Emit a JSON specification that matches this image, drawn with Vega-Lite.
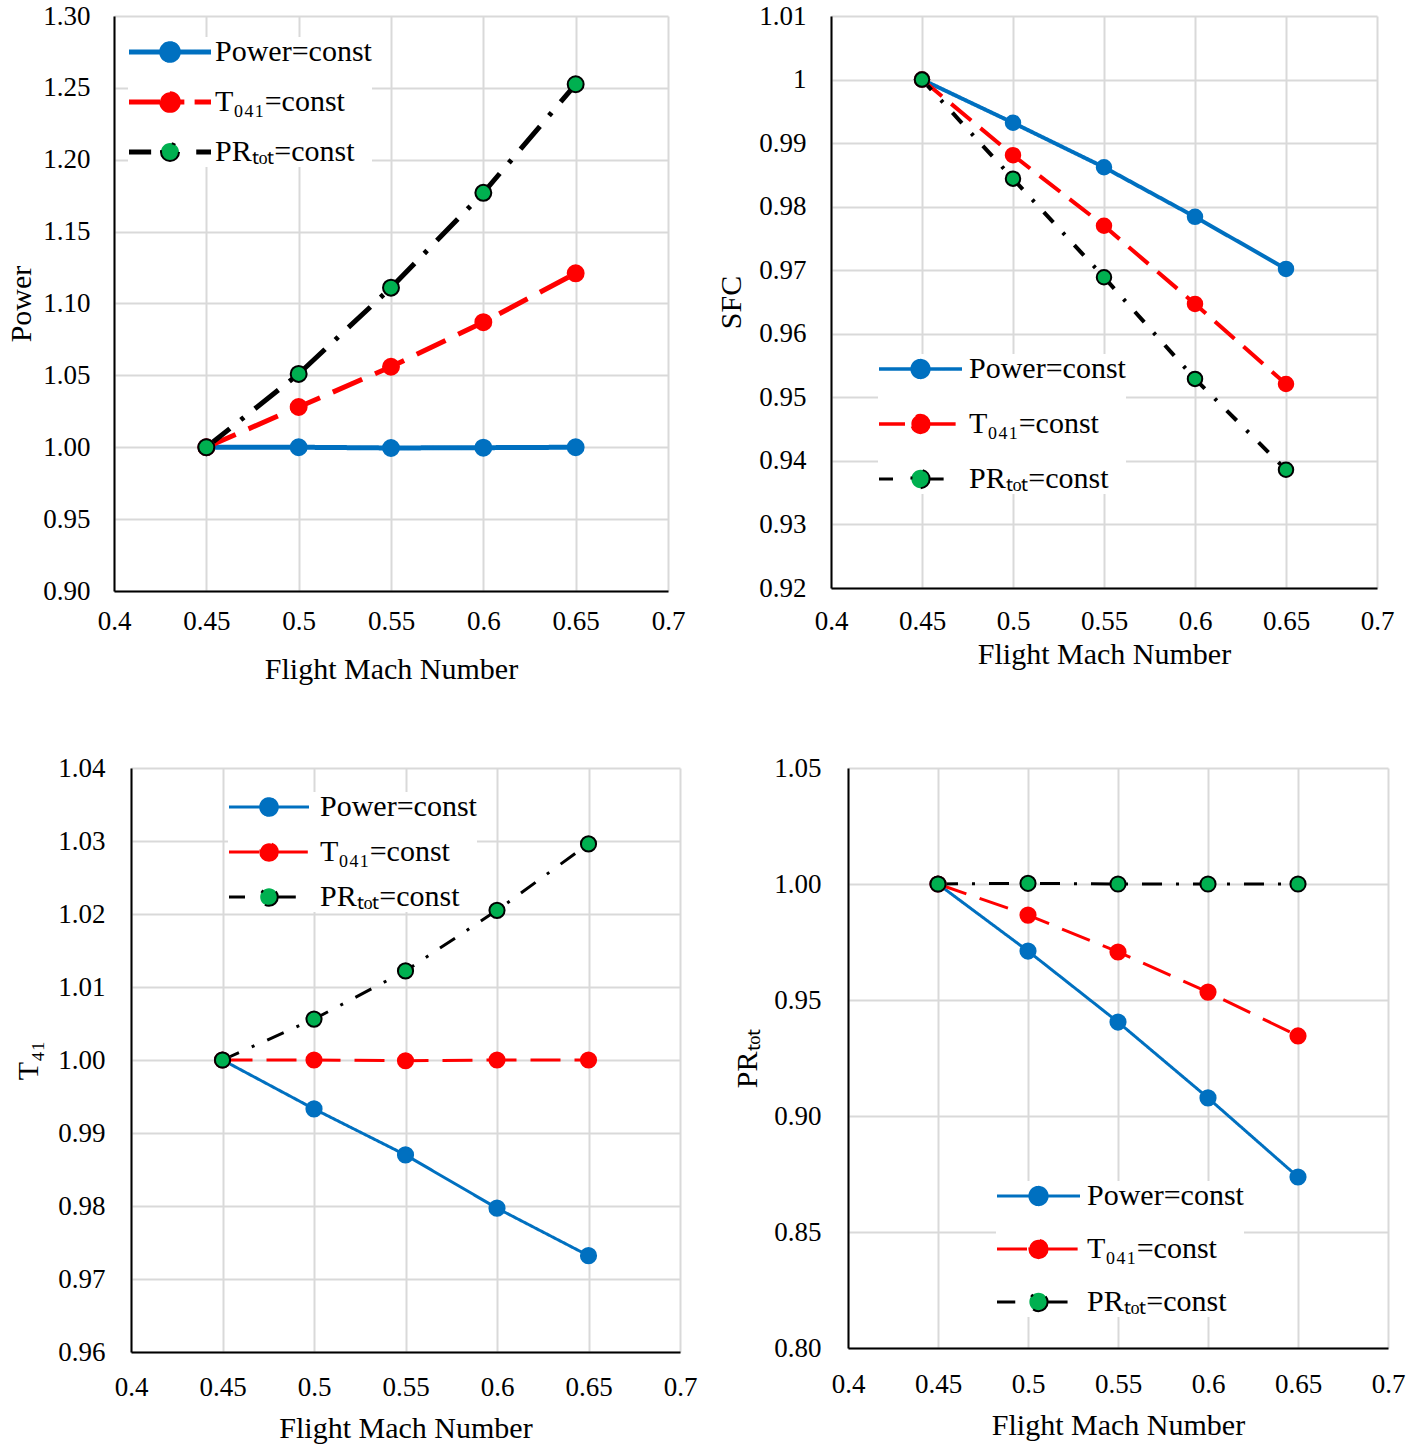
{
  "$schema": "https://vega.github.io/schema/vega-lite/v6.json",
  "padding": {"left": 6, "top": 2, "right": 5, "bottom": 5},
  "background": "white",
  "config": {
    "font": "Liberation Serif",
    "view": {"stroke": null},
    "style": {"guide-label": {"font": "Liberation Serif"}, "guide-title": {"font": "Liberation Serif"}},
    "axis": {
      "labelFont": "Liberation Serif", "labelFontSize": 27, "labelColor": "#000000",
      "titleFont": "Liberation Serif", "titleFontSize": 30, "titleFontWeight": "normal", "titleColor": "#000000",
      "gridColor": "#d9d9d9", "gridWidth": 2, "domainColor": "#000000", "domainWidth": 2,
      "ticks": false, "labelFlush": false, "labelOverlap": false
    },
    "legend": {"labelFont": "Liberation Serif", "labelColor": "#000000"}
  },
  "resolve": {"scale": {"color": "independent", "strokeDash": "independent", "fill": "independent", "stroke": "independent"}, "legend": {"color": "independent"}},
  "data": {"values": [
    {"panel": "Power", "series": "Power=const", "mach": 0.45, "value": 1.000},
    {"panel": "Power", "series": "Power=const", "mach": 0.5, "value": 1.000},
    {"panel": "Power", "series": "Power=const", "mach": 0.55, "value": 0.9995},
    {"panel": "Power", "series": "Power=const", "mach": 0.6, "value": 0.9997},
    {"panel": "Power", "series": "Power=const", "mach": 0.65, "value": 1.000},
    {"panel": "Power", "series": "T₀₄₁=const", "mach": 0.45, "value": 1.000},
    {"panel": "Power", "series": "T₀₄₁=const", "mach": 0.5, "value": 1.028},
    {"panel": "Power", "series": "T₀₄₁=const", "mach": 0.55, "value": 1.056},
    {"panel": "Power", "series": "T₀₄₁=const", "mach": 0.6, "value": 1.087},
    {"panel": "Power", "series": "T₀₄₁=const", "mach": 0.65, "value": 1.121},
    {"panel": "Power", "series": "PRₜₒₜ=const", "mach": 0.45, "value": 1.000},
    {"panel": "Power", "series": "PRₜₒₜ=const", "mach": 0.5, "value": 1.051},
    {"panel": "Power", "series": "PRₜₒₜ=const", "mach": 0.55, "value": 1.111},
    {"panel": "Power", "series": "PRₜₒₜ=const", "mach": 0.6, "value": 1.177},
    {"panel": "Power", "series": "PRₜₒₜ=const", "mach": 0.65, "value": 1.2525},

    {"panel": "SFC", "series": "Power=const", "mach": 0.45, "value": 1.000},
    {"panel": "SFC", "series": "Power=const", "mach": 0.5, "value": 0.9932},
    {"panel": "SFC", "series": "Power=const", "mach": 0.55, "value": 0.9862},
    {"panel": "SFC", "series": "Power=const", "mach": 0.6, "value": 0.9784},
    {"panel": "SFC", "series": "Power=const", "mach": 0.65, "value": 0.9702},
    {"panel": "SFC", "series": "T₀₄₁=const", "mach": 0.45, "value": 1.000},
    {"panel": "SFC", "series": "T₀₄₁=const", "mach": 0.5, "value": 0.9881},
    {"panel": "SFC", "series": "T₀₄₁=const", "mach": 0.55, "value": 0.9770},
    {"panel": "SFC", "series": "T₀₄₁=const", "mach": 0.6, "value": 0.9647},
    {"panel": "SFC", "series": "T₀₄₁=const", "mach": 0.65, "value": 0.9521},
    {"panel": "SFC", "series": "PRₜₒₜ=const", "mach": 0.45, "value": 1.000},
    {"panel": "SFC", "series": "PRₜₒₜ=const", "mach": 0.5, "value": 0.9844},
    {"panel": "SFC", "series": "PRₜₒₜ=const", "mach": 0.55, "value": 0.9689},
    {"panel": "SFC", "series": "PRₜₒₜ=const", "mach": 0.6, "value": 0.9529},
    {"panel": "SFC", "series": "PRₜₒₜ=const", "mach": 0.65, "value": 0.9386},

    {"panel": "T41", "series": "Power=const", "mach": 0.45, "value": 1.000},
    {"panel": "T41", "series": "Power=const", "mach": 0.5, "value": 0.9933},
    {"panel": "T41", "series": "Power=const", "mach": 0.55, "value": 0.9870},
    {"panel": "T41", "series": "Power=const", "mach": 0.6, "value": 0.9797},
    {"panel": "T41", "series": "Power=const", "mach": 0.65, "value": 0.9732},
    {"panel": "T41", "series": "T₀₄₁=const", "mach": 0.45, "value": 1.000},
    {"panel": "T41", "series": "T₀₄₁=const", "mach": 0.5, "value": 1.000},
    {"panel": "T41", "series": "T₀₄₁=const", "mach": 0.55, "value": 0.9999},
    {"panel": "T41", "series": "T₀₄₁=const", "mach": 0.6, "value": 1.000},
    {"panel": "T41", "series": "T₀₄₁=const", "mach": 0.65, "value": 1.000},
    {"panel": "T41", "series": "PRₜₒₜ=const", "mach": 0.45, "value": 1.000},
    {"panel": "T41", "series": "PRₜₒₜ=const", "mach": 0.5, "value": 1.0056},
    {"panel": "T41", "series": "PRₜₒₜ=const", "mach": 0.55, "value": 1.0122},
    {"panel": "T41", "series": "PRₜₒₜ=const", "mach": 0.6, "value": 1.0205},
    {"panel": "T41", "series": "PRₜₒₜ=const", "mach": 0.65, "value": 1.0296},

    {"panel": "PR", "series": "Power=const", "mach": 0.45, "value": 1.000},
    {"panel": "PR", "series": "Power=const", "mach": 0.5, "value": 0.9711},
    {"panel": "PR", "series": "Power=const", "mach": 0.55, "value": 0.9405},
    {"panel": "PR", "series": "Power=const", "mach": 0.6, "value": 0.9078},
    {"panel": "PR", "series": "Power=const", "mach": 0.65, "value": 0.8737},
    {"panel": "PR", "series": "T₀₄₁=const", "mach": 0.45, "value": 1.000},
    {"panel": "PR", "series": "T₀₄₁=const", "mach": 0.5, "value": 0.9866},
    {"panel": "PR", "series": "T₀₄₁=const", "mach": 0.55, "value": 0.9707},
    {"panel": "PR", "series": "T₀₄₁=const", "mach": 0.6, "value": 0.9534},
    {"panel": "PR", "series": "T₀₄₁=const", "mach": 0.65, "value": 0.9345},
    {"panel": "PR", "series": "PRₜₒₜ=const", "mach": 0.45, "value": 1.000},
    {"panel": "PR", "series": "PRₜₒₜ=const", "mach": 0.5, "value": 1.0003},
    {"panel": "PR", "series": "PRₜₒₜ=const", "mach": 0.55, "value": 1.000},
    {"panel": "PR", "series": "PRₜₒₜ=const", "mach": 0.6, "value": 1.000},
    {"panel": "PR", "series": "PRₜₒₜ=const", "mach": 0.65, "value": 1.000}
  ]},
  "columns": 1,
  "align": "none",
  "spacing": 70,
  "concat": [
    {
      "spacing": 31,
      "resolve": {"scale": {"color": "independent", "strokeDash": "independent", "fill": "independent", "stroke": "independent"}, "legend": {"color": "independent"}},
      "hconcat": [
        {
          "width": 554, "height": 575,
          "transform": [{"filter": "datum.panel == 'Power'"}],
          "layer": [
            {
              "mark": {"type": "line", "strokeWidth": 5},
              "encoding": {
                "x": {"field": "mach", "type": "quantitative", "scale": {"domain": [0.4, 0.7], "nice": false, "zero": false},
                      "axis": {"values": [0.4, 0.45, 0.5, 0.55, 0.6, 0.65, 0.7], "format": "~g", "title": "Flight Mach Number", "labelPadding": 17, "titlePadding": 20}},
                "y": {"field": "value", "type": "quantitative", "scale": {"domain": [0.9, 1.3], "nice": false, "zero": false},
                      "axis": {"values": [0.9, 0.95, 1.0, 1.05, 1.1, 1.15, 1.2, 1.25, 1.3], "format": ".2f", "title": "Power", "labelPadding": 24, "titlePadding": 6}},
                "color": {"field": "series", "type": "nominal",
                          "scale": {"domain": ["Power=const", "T₀₄₁=const", "PRₜₒₜ=const"], "range": ["#0070C0", "#FF0000", "#000000"]},
                          "legend": {"title": null, "orient": "none", "legendX": 14, "legendY": 21, "symbolType": "circle", "symbolSize": 6724, "symbolStrokeWidth": 2, "clipHeight": 30, "rowPadding": 20, "labelFontSize": 30, "labelOffset": 3, "fillColor": "white", "padding": 0,
                                     "encode": {"symbols": {"update": {
                                       "shape": {"signal": "indexof(datum.value, 'PR') == 0 ? 'M-1,-0.035L-0.46,-0.035M-1,0L-0.46,0M-1,0.035L-0.46,0.035M0.64,-0.035L1,-0.035M0.64,0L1,0M0.64,0.035L1,0.035M0.22,0C0.22,0.1215,0.1215,0.22,0,0.22C-0.1215,0.22,-0.22,0.1215,-0.22,0C-0.22,-0.1215,-0.1215,-0.22,0,-0.22C0.1215,-0.22,0.22,-0.1215,0.22,0Z' : (indexof(datum.value, 'Power') == 0 ? 'M-1,-0.035L-0.24,-0.035M-1,0L-0.24,0M-1,0.035L-0.24,0.035M0.24,-0.035L1,-0.035M0.24,0L1,0M0.24,0.035L1,0.035M0.24,0C0.24,0.1326,0.1326,0.24,0,0.24C-0.1326,0.24,-0.24,0.1326,-0.24,0C-0.24,-0.1326,-0.1326,-0.24,0,-0.24C0.1326,-0.24,0.24,-0.1326,0.24,0Z' : 'M-1,-0.035L-0.24,-0.035M-1,0L-0.24,0M-1,0.035L-0.24,0.035M0.24,-0.035L0.35,-0.035M0.24,0L0.35,0M0.24,0.035L0.35,0.035M0.6,-0.035L1,-0.035M0.6,0L1,0M0.6,0.035L1,0.035M0.24,0C0.24,0.1326,0.1326,0.24,0,0.24C-0.1326,0.24,-0.24,0.1326,-0.24,0C-0.24,-0.1326,-0.1326,-0.24,0,-0.24C0.1326,-0.24,0.24,-0.1326,0.24,0Z')"},
                                       "fill": {"signal": "indexof(datum.value, 'PR') == 0 ? '#00B050' : (indexof(datum.value, 'Power') == 0 ? '#0070C0' : '#FF0000')"},
                                       "fillOpacity": {"value": 1}}}}}},
                "strokeDash": {"field": "series", "type": "nominal",
                               "scale": {"domain": ["Power=const", "T₀₄₁=const", "PRₜₒₜ=const"], "range": [[1, 0], [32, 14], [30, 14, 4, 14]]},
                               "legend": null}
              }
            },
            {
              "mark": {"type": "point", "filled": true, "size": 254, "strokeWidth": 2, "opacity": 1},
              "encoding": {
                "x": {"field": "mach", "type": "quantitative"},
                "y": {"field": "value", "type": "quantitative"},
                "fill": {"field": "series", "type": "nominal", "scale": {"domain": ["Power=const", "T₀₄₁=const", "PRₜₒₜ=const"], "range": ["#0070C0", "#FF0000", "#00B050"]}, "legend": null},
                "stroke": {"field": "series", "type": "nominal", "scale": {"domain": ["Power=const", "T₀₄₁=const", "PRₜₒₜ=const"], "range": ["#0070C0", "#FF0000", "#000000"]}, "legend": null}
              }
            }
          ]
        },
        {
          "width": 546, "height": 572,
          "transform": [{"filter": "datum.panel == 'SFC'"}],
          "layer": [
            {
              "mark": {"type": "line", "strokeWidth": 4},
              "encoding": {
                "x": {"field": "mach", "type": "quantitative", "scale": {"domain": [0.4, 0.7], "nice": false, "zero": false},
                      "axis": {"values": [0.4, 0.45, 0.5, 0.55, 0.6, 0.65, 0.7], "format": "~g", "title": "Flight Mach Number", "labelPadding": 20, "titlePadding": 5}},
                "y": {"field": "value", "type": "quantitative", "scale": {"domain": [0.92, 1.01], "nice": false, "zero": false},
                      "axis": {"values": [0.92, 0.93, 0.94, 0.95, 0.96, 0.97, 0.98, 0.99, 1, 1.01], "format": "~g", "title": "SFC", "labelPadding": 25, "titlePadding": 12}},
                "color": {"field": "series", "type": "nominal",
                          "scale": {"domain": ["Power=const", "T₀₄₁=const", "PRₜₒₜ=const"], "range": ["#0070C0", "#FF0000", "#000000"]},
                          "legend": {"title": null, "orient": "none", "legendX": 47, "legendY": 338, "symbolType": "circle", "symbolSize": 6889, "symbolStrokeWidth": 2, "clipHeight": 30, "rowPadding": 25, "labelFontSize": 30, "labelOffset": 6, "fillColor": "white", "padding": 0,
                                     "encode": {"symbols": {"update": {
                                       "shape": {"signal": "indexof(datum.value, 'PR') == 0 ? 'M-1,-0.012L-0.6,-0.012M-1,0.012L-0.6,0.012M0.22,-0.012L0.7,-0.012M0.22,0.012L0.7,0.012M0.22,0C0.22,0.1215,0.1215,0.22,0,0.22C-0.1215,0.22,-0.22,0.1215,-0.22,0C-0.22,-0.1215,-0.1215,-0.22,0,-0.22C0.1215,-0.22,0.22,-0.1215,0.22,0Z' : 'M-1,-0.018L-0.22,-0.018M-1,0.018L-0.22,0.018M0.22,-0.018L1,-0.018M0.22,0.018L1,0.018M0.22,0C0.22,0.1215,0.1215,0.22,0,0.22C-0.1215,0.22,-0.22,0.1215,-0.22,0C-0.22,-0.1215,-0.1215,-0.22,0,-0.22C0.1215,-0.22,0.22,-0.1215,0.22,0Z'"},
                                       "fill": {"signal": "indexof(datum.value, 'PR') == 0 ? '#00B050' : (indexof(datum.value, 'Power') == 0 ? '#0070C0' : '#FF0000')"},
                                       "fillOpacity": {"value": 1}}}}}},
                "strokeDash": {"field": "series", "type": "nominal",
                               "scale": {"domain": ["Power=const", "T₀₄₁=const", "PRₜₒₜ=const"], "range": [[1, 0], [26, 12], [14, 14, 3, 14]]},
                               "legend": null}
              }
            },
            {
              "mark": {"type": "point", "filled": true, "size": 210, "strokeWidth": 2, "opacity": 1},
              "encoding": {
                "x": {"field": "mach", "type": "quantitative"},
                "y": {"field": "value", "type": "quantitative"},
                "fill": {"field": "series", "type": "nominal", "scale": {"domain": ["Power=const", "T₀₄₁=const", "PRₜₒₜ=const"], "range": ["#0070C0", "#FF0000", "#00B050"]}, "legend": null},
                "stroke": {"field": "series", "type": "nominal", "scale": {"domain": ["Power=const", "T₀₄₁=const", "PRₜₒₜ=const"], "range": ["#0070C0", "#FF0000", "#000000"]}, "legend": null}
              }
            }
          ]
        }
      ]
    },
    {
      "spacing": 35,
      "resolve": {"scale": {"color": "independent", "strokeDash": "independent", "fill": "independent", "stroke": "independent"}, "legend": {"color": "independent"}},
      "hconcat": [
        {
          "width": 566, "height": 584,
          "transform": [{"filter": "datum.panel == 'T41'"}],
          "layer": [
            {
              "mark": {"type": "line", "strokeWidth": 3},
              "encoding": {
                "x": {"field": "mach", "type": "quantitative", "scale": {"domain": [0.4, 0.7], "range": [17, 566], "nice": false, "zero": false},
                      "axis": {"values": [0.4, 0.45, 0.5, 0.55, 0.6, 0.65, 0.7], "format": "~g", "title": "Flight Mach Number", "labelPadding": 22, "titlePadding": 13}},
                "y": {"field": "value", "type": "quantitative", "scale": {"domain": [0.96, 1.04], "nice": false, "zero": false},
                      "axis": {"values": [0.96, 0.97, 0.98, 0.99, 1.0, 1.01, 1.02, 1.03, 1.04], "format": ".2f", "title": "T₄₁", "labelPadding": 26, "titlePadding": 14, "offset": -17}},
                "color": {"field": "series", "type": "nominal",
                          "scale": {"domain": ["Power=const", "T₀₄₁=const", "PRₜₒₜ=const"], "range": ["#0070C0", "#FF0000", "#000000"]},
                          "legend": {"title": null, "orient": "none", "legendX": 114, "legendY": 24, "symbolType": "circle", "symbolSize": 6400, "symbolStrokeWidth": 2, "clipHeight": 30, "rowPadding": 15, "labelFontSize": 30, "labelOffset": 10, "fillColor": "white", "padding": 0,
                                     "encode": {"symbols": {"update": {
                                       "shape": {"signal": "indexof(datum.value, 'PR') == 0 ? 'M-1,-0.012L-0.6,-0.012M-1,0.012L-0.6,0.012M0.22,-0.012L0.8,-0.012M0.22,0.012L0.8,0.012M0.22,0C0.22,0.1215,0.1215,0.22,0,0.22C-0.1215,0.22,-0.22,0.1215,-0.22,0C-0.22,-0.1215,-0.1215,-0.22,0,-0.22C0.1215,-0.22,0.22,-0.1215,0.22,0Z' : 'M-1,-0.012L-0.22,-0.012M-1,0.012L-0.22,0.012M0.22,-0.012L1,-0.012M0.22,0.012L1,0.012M0.22,0C0.22,0.1215,0.1215,0.22,0,0.22C-0.1215,0.22,-0.22,0.1215,-0.22,0C-0.22,-0.1215,-0.1215,-0.22,0,-0.22C0.1215,-0.22,0.22,-0.1215,0.22,0Z'"},
                                       "fill": {"signal": "indexof(datum.value, 'PR') == 0 ? '#00B050' : (indexof(datum.value, 'Power') == 0 ? '#0070C0' : '#FF0000')"},
                                       "fillOpacity": {"value": 1}}}}}},
                "strokeDash": {"field": "series", "type": "nominal",
                               "scale": {"domain": ["Power=const", "T₀₄₁=const", "PRₜₒₜ=const"], "range": [[1, 0], [30, 14], [18, 14, 3, 14]]},
                               "legend": null}
              }
            },
            {
              "mark": {"type": "point", "filled": true, "size": 230, "strokeWidth": 2, "opacity": 1},
              "encoding": {
                "x": {"field": "mach", "type": "quantitative"},
                "y": {"field": "value", "type": "quantitative"},
                "fill": {"field": "series", "type": "nominal", "scale": {"domain": ["Power=const", "T₀₄₁=const", "PRₜₒₜ=const"], "range": ["#0070C0", "#FF0000", "#00B050"]}, "legend": null},
                "stroke": {"field": "series", "type": "nominal", "scale": {"domain": ["Power=const", "T₀₄₁=const", "PRₜₒₜ=const"], "range": ["#0070C0", "#FF0000", "#000000"]}, "legend": null}
              }
            }
          ]
        },
        {
          "width": 540, "height": 580,
          "transform": [{"filter": "datum.panel == 'PR'"}],
          "layer": [
            {
              "mark": {"type": "line", "strokeWidth": 3},
              "encoding": {
                "x": {"field": "mach", "type": "quantitative", "scale": {"domain": [0.4, 0.7], "nice": false, "zero": false},
                      "axis": {"values": [0.4, 0.45, 0.5, 0.55, 0.6, 0.65, 0.7], "format": "~g", "title": "Flight Mach Number", "labelPadding": 23, "titlePadding": 13}},
                "y": {"field": "value", "type": "quantitative", "scale": {"domain": [0.8, 1.05], "nice": false, "zero": false},
                      "axis": {"values": [0.8, 0.85, 0.9, 0.95, 1.0, 1.05], "format": ".2f", "title": "PRₜₒₜ", "labelPadding": 27, "titlePadding": 11}},
                "color": {"field": "series", "type": "nominal",
                          "scale": {"domain": ["Power=const", "T₀₄₁=const", "PRₜₒₜ=const"], "range": ["#0070C0", "#FF0000", "#000000"]},
                          "legend": {"title": null, "orient": "none", "legendX": 148, "legendY": 413, "symbolType": "circle", "symbolSize": 6889, "symbolStrokeWidth": 2, "clipHeight": 30, "rowPadding": 23, "labelFontSize": 30, "labelOffset": 6, "fillColor": "white", "padding": 0,
                                     "encode": {"symbols": {"update": {
                                       "shape": {"signal": "indexof(datum.value, 'PR') == 0 ? 'M-1,-0.012L-0.56,-0.012M-1,0.012L-0.56,0.012M0.22,-0.012L0.7,-0.012M0.22,0.012L0.7,0.012M0.22,0C0.22,0.1215,0.1215,0.22,0,0.22C-0.1215,0.22,-0.22,0.1215,-0.22,0C-0.22,-0.1215,-0.1215,-0.22,0,-0.22C0.1215,-0.22,0.22,-0.1215,0.22,0Z' : 'M-1,-0.012L-0.22,-0.012M-1,0.012L-0.22,0.012M0.22,-0.012L1,-0.012M0.22,0.012L1,0.012M0.22,0C0.22,0.1215,0.1215,0.22,0,0.22C-0.1215,0.22,-0.22,0.1215,-0.22,0C-0.22,-0.1215,-0.1215,-0.22,0,-0.22C0.1215,-0.22,0.22,-0.1215,0.22,0Z'"},
                                       "fill": {"signal": "indexof(datum.value, 'PR') == 0 ? '#00B050' : (indexof(datum.value, 'Power') == 0 ? '#0070C0' : '#FF0000')"},
                                       "fillOpacity": {"value": 1}}}}}},
                "strokeDash": {"field": "series", "type": "nominal",
                               "scale": {"domain": ["Power=const", "T₀₄₁=const", "PRₜₒₜ=const"], "range": [[1, 0], [30, 14], [20, 14, 3, 14]]},
                               "legend": null}
              }
            },
            {
              "mark": {"type": "point", "filled": true, "size": 230, "strokeWidth": 2, "opacity": 1},
              "encoding": {
                "x": {"field": "mach", "type": "quantitative"},
                "y": {"field": "value", "type": "quantitative"},
                "fill": {"field": "series", "type": "nominal", "scale": {"domain": ["Power=const", "T₀₄₁=const", "PRₜₒₜ=const"], "range": ["#0070C0", "#FF0000", "#00B050"]}, "legend": null},
                "stroke": {"field": "series", "type": "nominal", "scale": {"domain": ["Power=const", "T₀₄₁=const", "PRₜₒₜ=const"], "range": ["#0070C0", "#FF0000", "#000000"]}, "legend": null}
              }
            }
          ]
        }
      ]
    }
  ]
}
